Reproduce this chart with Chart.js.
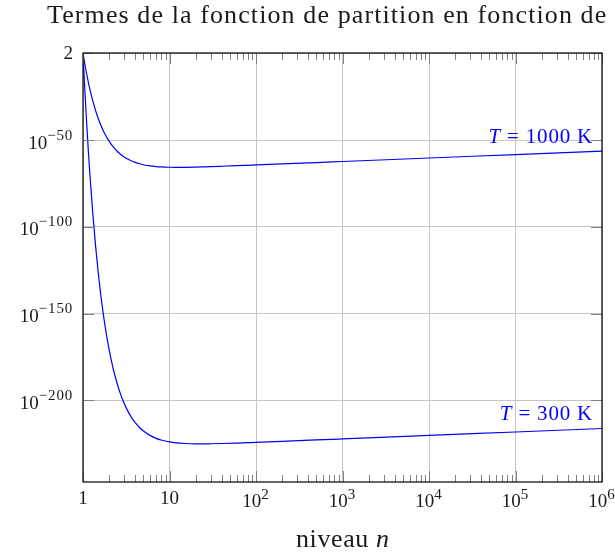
<!DOCTYPE html>
<html lang="fr">
<head>
<meta charset="utf-8">
<script src="https://cdn.jsdelivr.net/npm/chart.js@4.4.1/dist/chart.umd.min.js"></script>
<style>
  html, body { margin: 0; padding: 0; background: #fff; }
  canvas { display: block; }
</style>
</head>
<body>
<canvas id="chart" width="615" height="554"></canvas>
<script>
// levels n along the x axis
const levels = [1, 1.02, 1.05, 1.1, 1.15, 1.2, 1.3, 1.4, 1.5, 1.6,
  1.7, 1.8, 2, 2.2, 2.5, 2.8, 3.2, 3.6, 4, 4.5,
  5, 6, 7, 8, 10, 12, 15, 20, 25, 30,
  40, 60, 100, 200, 500, 1000, 1e4, 1e5, 1e6];

// decimal exponent of each term, one list per temperature
const exp1000 = [0.30, -2.34, -6.03, -11.51, -16.29, -20.48, -27.46, -32.98, -37.43, -41.06,
  -44.06, -46.57, -50.50, -53.39, -56.48, -58.60, -60.54, -61.84, -62.75, -63.55,
  -64.10, -64.78, -65.15, -65.36, -65.55, -65.61, -65.58, -65.47, -65.33, -65.21,
  -64.99, -64.66, -64.23, -63.64, -62.84, -62.24, -60.24, -58.24, -56.24];
const exp300 = [0.30, -8.55, -20.90, -39.27, -55.29, -69.35, -92.75, -111.31, -126.28, -138.52,
  -148.65, -157.14, -170.45, -180.28, -190.82, -198.13, -204.85, -209.43, -212.69, -215.58,
  -217.63, -220.27, -221.82, -222.79, -223.88, -224.42, -224.80, -225.00, -225.01, -224.96,
  -224.82, -224.55, -224.15, -223.56, -222.77, -222.17, -220.17, -218.17, -216.17];

const seriesNames = ["1000", "300"];
const xTicks = [1, 10, 1e2, 1e3, 1e4, 1e5, 1e6];
const yTicks = [2, 1e-50, 1e-100, 1e-150, 1e-200];
const yMin = 1e-247, yMax = 2;

const SERIF = '"Liberation Serif", "DejaVu Serif", serif';
const BLUE = "#0000ff";
const GRID = "#c6c6c6";
const TICK = "#808080";
const MAJOR = 11, MINOR = 7;

function toPoints(exps) {
  return levels.map((n, i) => ({ x: n, y: Math.pow(10, exps[i]) }));
}

// draw a row of text pieces (font and spacing can change per piece)
function drawParts(ctx, parts, x, y, align) {
  const widths = parts.map(p => {
    ctx.font = p.font;
    ctx.letterSpacing = p.ls || "0px";
    return ctx.measureText(p.t).width;
  });
  const total = widths.reduce((s, w) => s + w, 0);
  let cx = align === "right" ? x - total : align === "center" ? x - total / 2 : x;
  parts.forEach((p, i) => {
    ctx.font = p.font;
    ctx.letterSpacing = p.ls || "0px";
    ctx.fillText(p.t, cx, y + (p.dy || 0));
    cx += widths[i];
  });
  ctx.letterSpacing = "0px";
}

function powerLabel(v, isY) {
  const main = "19px " + SERIF, sup = "15px " + SERIF;
  if (v === 2) return [{ t: "2", font: main }];
  const e = Math.round(Math.log10(v));
  if (e === 0) return [{ t: "1", font: main }];
  if (e === 1) return [{ t: "10", font: main }];
  const es = (e < 0 ? "\u2212" : "") + Math.abs(e);
  return [{ t: "10", font: main }, { t: es, font: sup, ls: "0.8px", dy: isY ? -9 : -8 }];
}

const axisDecor = {
  id: "axisDecor",
  afterDatasetsDraw(chart) {
    const { ctx, chartArea: a, scales: { x, y } } = chart;
    ctx.save();

    // inward tick marks on all four sides
    ctx.strokeStyle = TICK;
    ctx.lineWidth = 1;
    ctx.beginPath();
    const vtick = (v, len) => {
      const px = Math.round(x.getPixelForValue(v)) + 0.5;
      ctx.moveTo(px, a.bottom); ctx.lineTo(px, a.bottom - len);
      ctx.moveTo(px, a.top); ctx.lineTo(px, a.top + len);
    };
    xTicks.forEach(v => vtick(v, MAJOR));
    for (let d = 1; d < 1e6; d *= 10) {
      for (let k = 2; k <= 9; k++) vtick(k * d, MINOR);
    }
    yTicks.forEach(v => {
      const py = Math.round(y.getPixelForValue(v)) + 0.5;
      ctx.moveTo(a.left, py); ctx.lineTo(a.left + MAJOR, py);
      ctx.moveTo(a.right, py); ctx.lineTo(a.right - MAJOR, py);
    });
    ctx.stroke();

    // frame
    ctx.strokeStyle = "#000";
    ctx.lineWidth = 1.2;
    ctx.strokeRect(a.left, a.top, a.right - a.left, a.bottom - a.top);

    // curve labels at the right end
    ctx.fillStyle = BLUE;
    ctx.textAlign = "left";
    ctx.textBaseline = "alphabetic";
    [exp1000, exp300].forEach((exps, i) => {
      const last = levels.length - 1;
      const px = x.getPixelForValue(levels[last]) - 9;
      const py = y.getPixelForValue(Math.pow(10, exps[last])) - 8.5;
      drawParts(ctx, [
        { t: "T", font: "italic 21px " + SERIF, ls: "0.8px" },
        { t: " = " + seriesNames[i] + " K", font: "21px " + SERIF, ls: "0.8px" }
      ], px, py, "right");
    });
    ctx.restore();
  },
  afterDraw(chart) {
    const { ctx, chartArea: a, scales: { x, y } } = chart;
    ctx.save();
    ctx.fillStyle = "#1a1a1a";
    ctx.textAlign = "left";
    ctx.textBaseline = "alphabetic";

    // tick labels
    xTicks.forEach(v => {
      const parts = powerLabel(v, false);
      const base = parts.length > 1 ? a.bottom + 25 : a.bottom + 21.5;
      drawParts(ctx, parts, x.getPixelForValue(v), base, "center");
    });
    yTicks.forEach(v => {
      const parts = powerLabel(v, true);
      const py = y.getPixelForValue(v) + (parts.length > 1 ? 8.3 : 6);
      drawParts(ctx, parts, a.left - 10, py, "right");
    });

    // title and axis label
    drawParts(ctx, [
      { t: "Termes de la fonction de partition en fonction de", font: "26px " + SERIF, ls: "1.1px" }
    ], 47, 23, "left");
    drawParts(ctx, [
      { t: "niveau ", font: "26px " + SERIF, ls: "0.6px" },
      { t: "n", font: "italic 26px " + SERIF }
    ], (a.left + a.right) / 2, 547, "center");
    ctx.restore();
  }
};

new Chart(document.getElementById("chart"), {
  type: "line",
  data: {
    datasets: [
      { label: "T = 1000 K", data: toPoints(exp1000) },
      { label: "T = 300 K", data: toPoints(exp300) }
    ].map(d => Object.assign(d, {
      borderColor: BLUE,
      borderWidth: 1.2,
      pointRadius: 0,
      fill: false,
      cubicInterpolationMode: "monotone"
    }))
  },
  options: {
    responsive: false,
    animation: false,
    devicePixelRatio: 1,
    layout: { padding: { left: 0, top: 53, right: 13, bottom: 0 } },
    plugins: { legend: { display: false }, tooltip: { enabled: false }, title: { display: false } },
    scales: {
      x: {
        type: "logarithmic",
        min: 1,
        max: 1e6,
        afterBuildTicks: s => { s.ticks = xTicks.map(v => ({ value: v })); },
        afterFit: s => { s.height = 72; },
        ticks: { display: false, autoSkip: false },
        grid: { color: GRID, lineWidth: 1, drawTicks: false },
        border: { display: false }
      },
      y: {
        type: "logarithmic",
        min: yMin,
        max: yMax,
        afterBuildTicks: s => { s.ticks = yTicks.map(v => ({ value: v })); },
        afterFit: s => { s.width = 83; },
        ticks: { display: false, autoSkip: false },
        grid: { color: GRID, lineWidth: 1, drawTicks: false },
        border: { display: false }
      }
    }
  },
  plugins: [axisDecor]
});
</script>
</body>
</html>
